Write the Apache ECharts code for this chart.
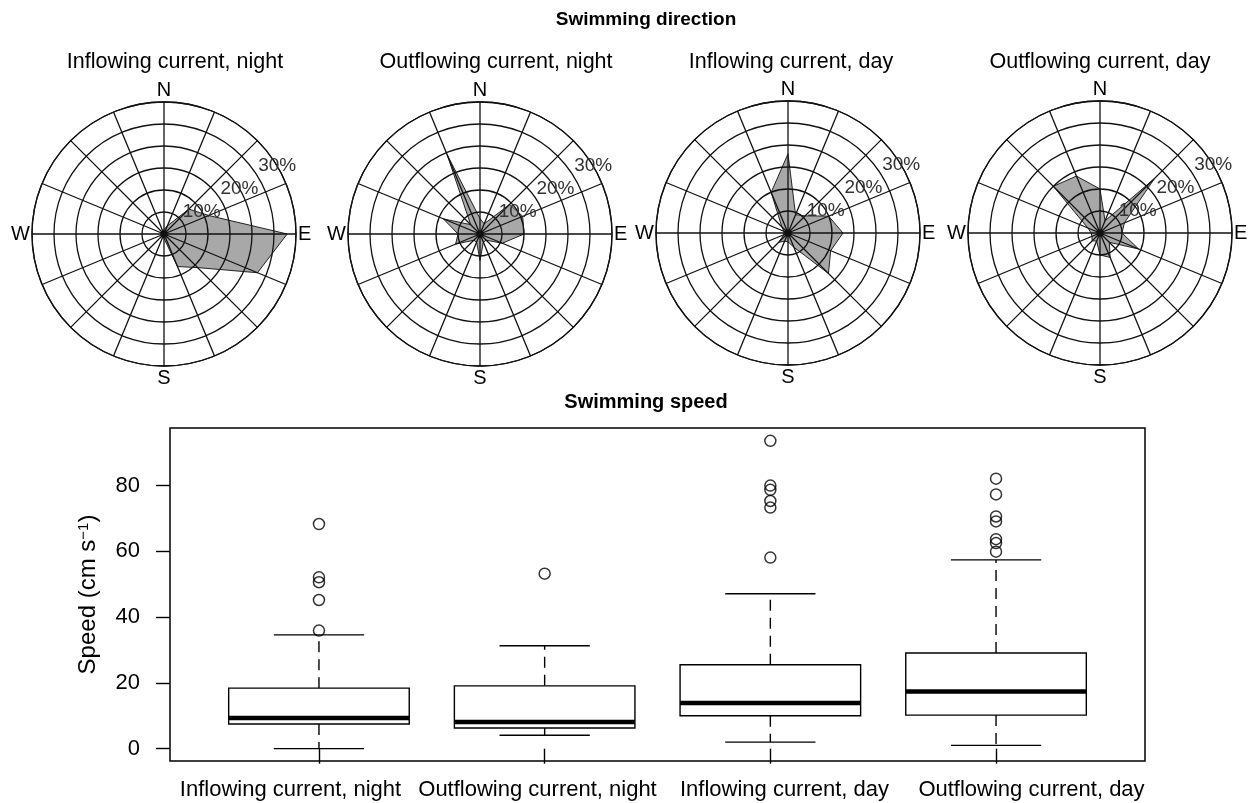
<!DOCTYPE html>
<html><head><meta charset="utf-8">
<script src="https://cdn.jsdelivr.net/npm/echarts@6/dist/echarts.min.js"></script>
<style>html,body{margin:0;padding:0;background:#fff}#c{width:1250px;height:803px}</style>
</head><body><div id="c"></div>
<script>
// ---- Rose (swimming direction) data: percent of observations per compass direction ----
const directions = ['N','NNE','NE','ENE','E','ESE','SE','SSE','S','SSW','SW','WSW','W','WNW','NW','NNW'];
const bearings = [0,22.5,45,67.5,90,112.5,135,157.5,180,202.5,225,247.5,270,292.5,315,337.5];
const ringTicks = [10, 20, 30];
const roseTitles = ['Inflowing current, night','Outflowing current, night','Inflowing current, day','Outflowing current, day'];
const roseInNight  = [1, 2, 8, 11, 28, 23, 10.8, 8, 1, 0.5, 0.5, 0.5, 0.5, 0.5, 0.5, 0.5];
const roseOutNight = [3.5, 2.5, 9.5, 10.5, 10, 5.5, 2, 2, 6, 2, 2, 6, 5, 9, 3, 19.5];
const roseInDay    = [18, 4.5, 5.5, 10, 12.5, 10.5, 13, 3.5, 2, 2, 3, 1, 1, 1, 2, 10];
const roseOutDay   = [10, 3, 17.5, 6, 5, 9.5, 3, 6, 5, 2, 2.5, 2, 2, 3, 15, 14];

// ---- Box plot (swimming speed) data ----
const speedCategories = ['Inflowing current, night','Outflowing current, night','Inflowing current, day','Outflowing current, day'];
const speedTicks = [0, 20, 40, 60, 80];
// [lower whisker, Q1, median, Q3, upper whisker]
const boxInNight  = [0.0, 7.5, 9.3, 18.4, 34.6];
const boxOutNight = [4.1, 6.3, 8.1, 19.1, 31.3];
const boxInDay    = [2.0, 10.0, 13.9, 25.5, 47.1];
const boxOutDay   = [1.0, 10.2, 17.4, 29.1, 57.4];
const outInNight  = [68.3, 52.1, 50.6, 45.2, 35.9];
const outOutNight = [53.2];
const outInDay    = [93.6, 80.0, 78.7, 75.3, 73.3, 58.1];
const outOutDay   = [82.1, 77.3, 70.6, 69.1, 63.7, 62.5, 59.9];

const FONT = '"Liberation Sans", Arial, Helvetica, sans-serif';
const roseData = [roseInNight, roseOutNight, roseInDay, roseOutDay];
const roseCenters = [[164,234],[480,234],[788,233],[1100,233]];
const titleX = [175, 496, 791, 1100];
const R = 132;
const compass = {0:'N', 90:'E', 180:'S', 270:'W'};

const polar = [], angleAxis = [], radiusAxis = [], series = [];
roseData.forEach((vals, i) => {
  polar.push({center: roseCenters[i], radius: R});
  angleAxis.push({polarIndex: i, type: 'value', min: 0, max: 360, interval: 22.5, startAngle: 90, clockwise: true, z: 5,
    axisLine: {show: true, lineStyle: {color: '#111', width: 1.3}},
    axisTick: {show: false},
    splitLine: {show: true, lineStyle: {color: '#111', width: 1.3}},
    axisLabel: {show: true, margin: 2, fontSize: 20, color: '#000', fontFamily: FONT,
      formatter: v => compass[v] || ''}});
  radiusAxis.push({polarIndex: i, type: 'value', min: 0, max: 30, interval: 5, z: 5,
    axisLine: {show: false}, axisTick: {show: false}, axisLabel: {show: false},
    splitLine: {show: true, lineStyle: {color: '#111', width: 1.3}}});
  const pts = vals.map((v, k) => [v, bearings[k]]);
  pts.push([vals[0], 360]);
  series.push({type: 'line', coordinateSystem: 'polar', polarIndex: i, data: pts, symbol: 'none', z: 2, silent: true,
    lineStyle: {color: '#222', width: 1}, areaStyle: {color: '#a8a8a8', opacity: 1}});
});
// percentage ring labels along a ray between E and NE
roseCenters.forEach((c, i) => {
  polar.push({center: c, radius: R});
  angleAxis.push({polarIndex: 4 + i, type: 'value', min: 0, max: 360, startAngle: 31, show: false});
  radiusAxis.push({polarIndex: 4 + i, type: 'value', min: 0, max: 30, z: 6,
    axisLine: {show: false}, axisTick: {show: false}, splitLine: {show: false},
    axisLabel: {show: true, customValues: ringTicks, formatter: v => v + '%', margin: 0,
      align: 'center', verticalAlign: 'middle', fontSize: 19, color: '#333', fontFamily: FONT}});
});

const boxes = [boxInNight, boxOutNight, boxInDay, boxOutDay];
const outliers = [outInNight, outOutNight, outInDay, outOutDay];

series.push({
  type: 'custom', xAxisIndex: 0, yAxisIndex: 0, silent: true, z: 3,
  data: boxes.map((b, i) => [i + 1].concat(b)),
  renderItem: (params, api) => {
    const x = api.value(0);
    const lo = api.coord([x, api.value(1)]);
    const q1 = api.coord([x, api.value(2)]);
    const md = api.coord([x, api.value(3)]);
    const q3 = api.coord([x, api.value(4)]);
    const hi = api.coord([x, api.value(5)]);
    const hw = api.size([0.8, 0])[0] / 2;
    const cw = hw / 2;
    const cx = lo[0];
    const ls = {stroke: '#000', lineWidth: 1.4, fill: null};
    return {type: 'group', children: [
      {type: 'line', shape: {x1: cx, y1: q3[1], x2: cx, y2: hi[1]}, style: Object.assign({}, ls, {lineDash: [11, 7]})},
      {type: 'line', shape: {x1: cx, y1: q1[1], x2: cx, y2: lo[1]}, style: Object.assign({}, ls, {lineDash: [11, 7]})},
      {type: 'line', shape: {x1: cx - cw, y1: hi[1], x2: cx + cw, y2: hi[1]}, style: ls},
      {type: 'line', shape: {x1: cx - cw, y1: lo[1], x2: cx + cw, y2: lo[1]}, style: ls},
      {type: 'rect', shape: {x: cx - hw, y: q3[1], width: 2 * hw, height: q1[1] - q3[1]}, style: {stroke: '#000', lineWidth: 1.4, fill: '#fff'}},
      {type: 'line', shape: {x1: cx - hw, y1: md[1], x2: cx + hw, y2: md[1]}, style: {stroke: '#000', lineWidth: 4.5}}
    ]};
  }
});
series.push({
  type: 'scatter', xAxisIndex: 0, yAxisIndex: 0, silent: true, z: 4,
  data: outliers.flatMap((arr, i) => arr.map(v => [i + 1, v])),
  symbol: 'circle', symbolSize: 11,
  itemStyle: {color: 'rgba(0,0,0,0)', borderColor: '#000', borderWidth: 1.5}
});

const option = {
  animation: false,
  backgroundColor: '#fff',
  polar, angleAxis, radiusAxis,
  grid: [
    {left: 170, right: 105, top: 428, bottom: 42, show: true, borderColor: '#000', borderWidth: 1.5, backgroundColor: 'rgba(0,0,0,0)'},
    {left: 167, right: 95, top: 428, bottom: 42, show: false}
  ],
  xAxis: [
    {gridIndex: 0, type: 'value', min: 0.34, max: 4.66, axisLine: {show: false}, splitLine: {show: false},
      axisLabel: {show: false},
      axisTick: {show: true, customValues: speedCategories.map((_, i) => i + 1), length: 15, lineStyle: {color: '#000', width: 1.4}}},
    {gridIndex: 1, type: 'category', data: speedCategories, axisLine: {show: false}, axisTick: {show: false},
      axisLabel: {interval: 0, fontSize: 22, color: '#000', margin: 18, fontFamily: FONT}}
  ],
  yAxis: [
    {gridIndex: 0, type: 'value', min: -3.75, max: 97.5, axisLine: {show: false}, splitLine: {show: false},
      axisTick: {show: true, customValues: speedTicks, length: 14, lineStyle: {color: '#000', width: 1.4}},
      axisLabel: {customValues: speedTicks, fontSize: 22, color: '#000', margin: 30, fontFamily: FONT},
      name: '{n|Speed (cm s}{s|\u22121}{n|)}', nameLocation: 'middle', nameRotate: 90, nameGap: 70,
      nameTextStyle: {fontSize: 24, color: '#000', fontFamily: FONT,
        rich: {n: {fontSize: 24, fontFamily: FONT, color: '#000'}, s: {fontSize: 15, fontFamily: FONT, color: '#000', verticalAlign: 'top'}}}},
    {gridIndex: 1, type: 'value', show: false, min: 0, max: 1}
  ],
  graphic: [
    {type: 'text', x: 646, y: 20, style: {text: 'Swimming direction', font: 'bold 19px ' + FONT, align: 'center', verticalAlign: 'middle', textAlign: 'center', textVerticalAlign: 'middle', fill: '#000'}},
    ...roseTitles.map((t, i) => ({type: 'text', x: titleX[i], y: 62,
      style: {text: t, font: '21.5px ' + FONT, align: 'center', verticalAlign: 'middle', textAlign: 'center', textVerticalAlign: 'middle', fill: '#000'}})),
    {type: 'text', x: 646, y: 402, style: {text: 'Swimming speed', font: 'bold 20px ' + FONT, align: 'center', verticalAlign: 'middle', textAlign: 'center', textVerticalAlign: 'middle', fill: '#000'}}
  ],
  series
};
const chart = echarts.init(document.getElementById('c'), null, {renderer: 'canvas'});
chart.setOption(option);
</script>
</body></html>
